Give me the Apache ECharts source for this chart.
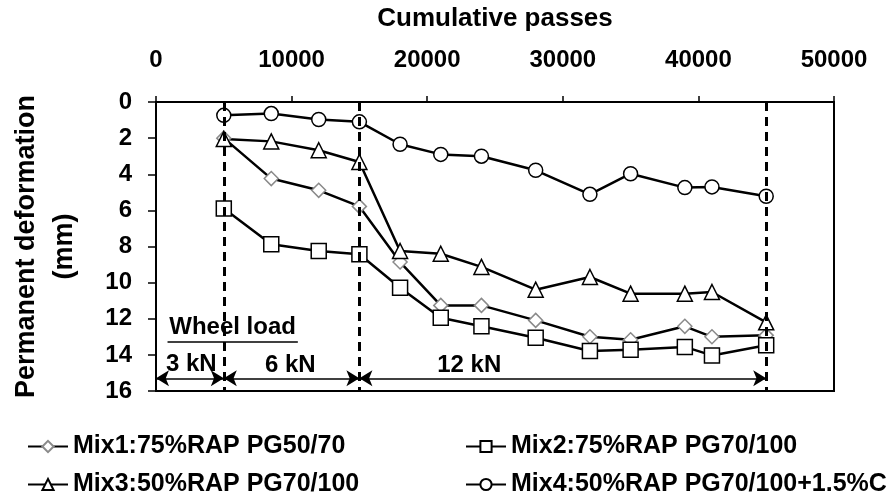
<!DOCTYPE html>
<html>
<head>
<meta charset="utf-8">
<script src="https://cdn.jsdelivr.net/npm/echarts@6/dist/echarts.min.js"></script>
<style>
  html, body { margin: 0; padding: 0; background: #fff; }
  #main { width: 894px; height: 500px; }
</style>
</head>
<body>
<div id="main"></div>
<script>
// cumulative passes where the readings were taken
var passes = [5000, 8500, 12000, 15000, 18000, 21000, 24000, 28000, 32000, 35000, 39000, 41000, 45000];

var mix1 = [2.0, 4.24, 4.89, 5.78, 8.86, 11.26, 11.26, 12.09, 13.0, 13.16, 12.42, 13.0, 12.92];
var mix2 = [5.9, 7.88, 8.25, 8.43, 10.28, 11.94, 12.42, 13.05, 13.79, 13.71, 13.56, 14.03, 13.47];
var mix3 = [2.05, 2.18, 2.67, 3.32, 8.25, 8.4, 9.13, 10.39, 9.69, 10.61, 10.61, 10.52, 12.2];
var mix4 = [0.74, 0.64, 0.97, 1.1, 2.34, 2.9, 3.0, 3.78, 5.11, 3.97, 4.74, 4.7, 5.22];

var names = ["Mix1:75%RAP PG50/70", "Mix2:75%RAP PG70/100",
             "Mix3:50%RAP PG70/100", "Mix4:50%RAP PG70/100+1.5%C"];

// wheel load stages
var stageBounds = [[0, 5000], [5000, 15000], [15000, 45000]];
var stageLabels = ["3 kN", "6 kN", "12 kN"];
var stageLabelAt = [[2600, 14.5], [9900, 14.6], [23100, 14.6]];
var stageLines = [5000, 15000, 45000];
var arrowDepth = 15.3;

var font = "'Liberation Sans', Arial, sans-serif";

function pairs(arr) {
    return passes.map(function (p, i) { return [p, arr[i]]; });
}

function lineSeries(name, arr, symbol, size, border) {
    return {
        name: name,
        type: "line",
        data: pairs(arr),
        symbol: symbol,
        symbolSize: size,
        showAllSymbol: true,
        lineStyle: { color: "#000", width: 2.5 },
        itemStyle: { color: "#fff", borderColor: border, borderWidth: 1.5 },
        z: 3
    };
}

var stageArrows = stageBounds.map(function (b) {
    return [{ coord: [b[0], arrowDepth] }, { coord: [b[1], arrowDepth] }];
});
var dashed = stageLines.map(function (x) {
    return [{ coord: [x, 0] }, { coord: [x, 16] }];
});
var labelPoints = stageLabels.map(function (t, i) {
    return { coord: stageLabelAt[i], value: t };
});
labelPoints.push({ coord: [5650, 12.5], value: "Wheel load" });

var series = [
    lineSeries(names[0], mix1, "diamond", 14, "#8a8a8a"),
    lineSeries(names[1], mix2, "rect", 15, "#000"),
    lineSeries(names[2], mix3, "triangle", 15, "#000"),
    lineSeries(names[3], mix4, "circle", 14, "#000"),
    {
        name: "annot",
        type: "line",
        data: [],
        z: 2,
        markLine: {
            silent: true,
            animation: false,
            symbol: ["none", "none"],
            label: { show: false },
            lineStyle: { color: "#000", width: 3, type: [9, 6] },
            data: dashed
        }
    },
    {
        name: "arrows",
        type: "line",
        data: [],
        z: 2,
        markLine: {
            silent: true,
            animation: false,
            symbol: ["arrow", "arrow"],
            symbolSize: [12, 13],
            label: { show: false },
            lineStyle: { color: "#000", width: 1.5, type: "solid" },
            data: stageArrows.concat([[{ coord: [850, 13.3], symbol: "none" }, { coord: [10460, 13.3], symbol: "none" }]])
        },
        markPoint: {
            silent: true,
            animation: false,
            symbol: "rect",
            symbolSize: 1,
            itemStyle: { color: "transparent" },
            label: {
                show: true,
                position: "inside",
                formatter: "{c}",
                color: "#000",
                fontFamily: font,
                fontWeight: "bold",
                fontSize: 24
            },
            data: labelPoints
        }
    }
];

function legendAt(name, left, top) {
    return {
        data: [name],
        left: left,
        top: top,
        itemWidth: 40,
        itemHeight: 14,
        itemGap: 6,
        textStyle: { color: "#000", fontFamily: font, fontWeight: "bold", fontSize: 25 }
    };
}

var option = {
    animation: false,
    backgroundColor: "#fff",
    grid: { left: 131, right: 60, top: 102, bottom: 109, show: true, borderColor: "#000", borderWidth: 2 },
    legend: [
        legendAt(names[0], 22, 429),
        legendAt(names[1], 460, 429),
        legendAt(names[2], 22, 467),
        legendAt(names[3], 460, 467)
    ],
    xAxis: {
        type: "value",
        position: "top",
        min: 0,
        max: 50000,
        interval: 10000,
        name: "Cumulative passes",
        nameLocation: "middle",
        nameGap: 70,
        nameTextStyle: { color: "#000", fontFamily: font, fontWeight: "bold", fontSize: 26 },
        axisLine: { lineStyle: { color: "#000", width: 2 } },
        axisTick: { show: true, length: 6, lineStyle: { color: "#000", width: 1.5 } },
        axisLabel: {
            color: "#000", fontFamily: font, fontWeight: "bold", fontSize: 24, margin: 30,
            formatter: function (v) { return String(v); }
        },
        splitLine: { show: false }
    },
    yAxis: {
        type: "value",
        inverse: true,
        min: 0,
        max: 16,
        interval: 2,
        name: "Permanent deformation\n(mm)",
        nameLocation: "middle",
        nameGap: 72,
        nameTextStyle: { color: "#000", fontFamily: font, fontWeight: "bold", fontSize: 27, lineHeight: 38 },
        axisLine: { lineStyle: { color: "#000", width: 2 } },
        axisTick: { show: true, length: 8, lineStyle: { color: "#000", width: 1.5 } },
        axisLabel: { color: "#000", fontFamily: font, fontWeight: "bold", fontSize: 24, margin: 24 },
        splitLine: { show: false }
    },
    series: series
};

var chart = echarts.init(document.getElementById("main"));
chart.setOption(option);
</script>
</body>
</html>
